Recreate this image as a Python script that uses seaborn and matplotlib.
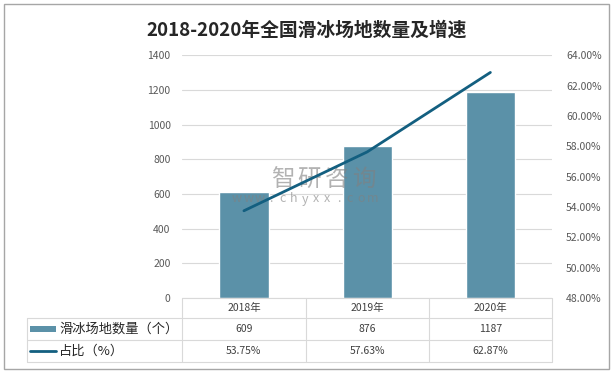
import numpy as np
import pandas as pd
import seaborn as sns
import matplotlib.pyplot as plt
from matplotlib.lines import Line2D
from matplotlib.patches import Rectangle
from matplotlib.transforms import blended_transform_factory

# 数据
years = ['2018年', '2019年', '2020年']
counts = [609, 876, 1187]
ratios = [53.75, 57.63, 62.87]
row_labels = ['滑冰场地数量（个）', '占比（%）']
title = '2018-2020年全国滑冰场地数量及增速'
watermark = '智研咨询'
watermark_url = 'www.chyxx.com'

bar_color = '#5B91A8'
line_color = '#135F80'
grid_color = '#D9D9D9'
text_color = '#404040'
tick_color = '#595959'

sns.set_theme(style='white')
plt.rcParams['font.family'] = ['Noto Sans CJK SC', 'DejaVu Sans']

W, H = 615, 374
fig = plt.figure(figsize=(W / 100, H / 100), dpi=100)


def fx(x):
    return x / W


def fy(y):
    return 1 - y / H


left, right, top, bottom = 182.3, 552, 55.3, 298
ax = fig.add_axes([fx(left), fy(bottom), fx(right - left), (bottom - top) / H])
ax2 = ax.twinx()

df = pd.DataFrame({'year': years, 'count': counts, 'ratio': ratios})
sns.barplot(data=df, x='year', y='count', ax=ax, color=bar_color,
            saturation=1, width=0.4, zorder=2)
sns.lineplot(data=df, x='year', y='ratio', ax=ax2, color=line_color,
             linewidth=2.0, sort=False, zorder=3)

ax.set_ylim(0, 1400)
ax.set_yticks(range(0, 1401, 200))
ax.set_xlim(-0.5, len(years) - 0.5)
ax2.set_ylim(48, 64)
ax2.set_yticks(np.arange(48, 64.01, 2))
ax2.set_yticklabels([f'{v:.2f}%' for v in np.arange(48, 64.01, 2)])

ax.grid(axis='y', color=grid_color, linewidth=0.8, zorder=0)
ax.set_axisbelow(True)
for a in (ax, ax2):
    for s in a.spines.values():
        s.set_visible(False)
    a.set_xlabel('')
    a.set_ylabel('')
    a.set_xticks([])
ax.tick_params(axis='y', length=0, pad=8.4, labelsize=7.5, labelcolor=tick_color)
ax2.tick_params(axis='y', length=0, pad=10, labelsize=7.5, labelcolor=tick_color)
ax2.grid(False)

# 标题
fig.text(fx(307), fy(30), title, ha='center', va='center', fontsize=13.5,
         fontweight='bold', color='#262626')

# 水印（在柱子之上、折线之下）
for k, ch in enumerate(watermark):
    ax.text(fx(282.5 + 27 * k), fy(179), ch, transform=fig.transFigure,
            ha='center', va='center', fontsize=17, color='#808080', alpha=0.6,
            zorder=5)
for k, ch in enumerate(watermark_url):
    ax.text(fx(237 + 11.3 * k), fy(199), ch, transform=fig.transFigure,
            ha='center', va='center', fontsize=9, color='#808080', alpha=0.6,
            zorder=5)

# 数据表
tr = blended_transform_factory(ax.transData, fig.transFigure)
row_y = [297.7, 318.3, 340.3, 362]
table_left = 26.7
n = len(years)

fig.add_artist(Line2D([fx(left), fx(right)], [fy(row_y[0])] * 2, color=grid_color, lw=0.8))
for y in row_y[1:]:
    fig.add_artist(Line2D([fx(table_left), fx(right)], [fy(y)] * 2, color=grid_color, lw=0.8))
fig.add_artist(Line2D([fx(table_left)] * 2, [fy(row_y[1]), fy(row_y[3])], color=grid_color, lw=0.8))
for i in range(n + 1):
    ax.add_line(Line2D([i - 0.5] * 2, [fy(row_y[0]), fy(row_y[3])], transform=tr,
                       color=grid_color, lw=0.8, clip_on=False))

row_c = [(row_y[k] + row_y[k + 1]) / 2 for k in range(3)]
for i in range(n):
    ax.text(i, fy(row_c[0]), years[i], transform=tr, ha='center', va='center',
            fontsize=7.5, color=text_color)
    ax.text(i, fy(row_c[1]), f'{counts[i]}', transform=tr, ha='center', va='center',
            fontsize=7.5, color=text_color)
    ax.text(i, fy(row_c[2]), f'{ratios[i]:.2f}%', transform=tr, ha='center', va='center',
            fontsize=7.5, color=text_color)

# 图例标签
fig.add_artist(Rectangle((fx(30), fy(row_c[1] + 3)), fx(25.5), 6 / H,
                         facecolor=bar_color, edgecolor='none'))
fig.add_artist(Line2D([fx(30), fx(56)], [fy(row_c[2])] * 2, color=line_color, lw=2.0))
fig.text(fx(59), fy(row_c[1]), row_labels[0], ha='left', va='center',
         fontsize=9.5, color='#262626')
fig.text(fx(59), fy(row_c[2]), row_labels[1], ha='left', va='center',
         fontsize=9.5, color='#262626')

# 外框
fig.add_artist(Rectangle((fx(3.5), fy(369)), fx(609 - 3.5), (369 - 4) / H,
                         facecolor='none', edgecolor='#A6A6A6', lw=1.0))

fig.savefig('out.png', dpi=100)
